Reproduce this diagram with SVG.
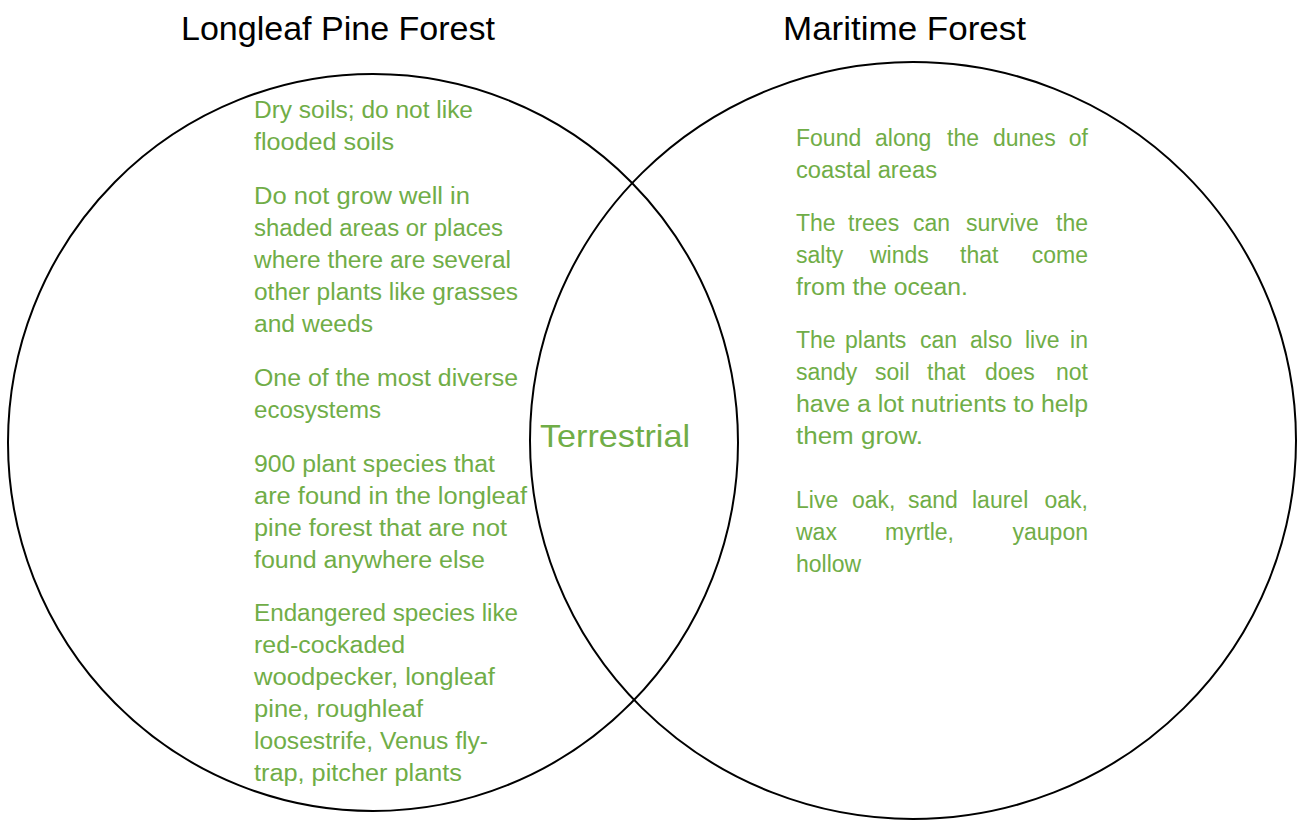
<svg xmlns="http://www.w3.org/2000/svg" width="1303" height="821" viewBox="0 0 1303 821">
<style>
.c{fill:none;stroke:#000;stroke-width:2}
.t{font-family:"Liberation Sans",Arial,sans-serif;font-size:23px;fill:#70AD47}
.e{text-anchor:end}
.h{font-family:"Liberation Sans",Arial,sans-serif;font-size:34px;fill:#000}
.m{font-family:"Liberation Sans",Arial,sans-serif;font-size:32px;fill:#70AD47}
</style>
<rect width="1303" height="821" fill="#fff"/>
<g id="circles">
<ellipse id="left-circle" class="c" cx="373" cy="442.5" rx="365" ry="368.5"/>
<ellipse id="right-circle" class="c" cx="913" cy="440.5" rx="383" ry="378.5"/>
</g>
<g id="titles">
<text class="h" x="181" y="40" textLength="314" lengthAdjust="spacingAndGlyphs">Longleaf Pine Forest</text>
<text class="h" x="783" y="40" textLength="243" lengthAdjust="spacingAndGlyphs">Maritime Forest</text>
</g>
<g id="overlap">
<text class="m" x="540" y="447" textLength="150" lengthAdjust="spacingAndGlyphs">Terrestrial</text>
</g>
<g id="longleaf-text">
<text class="t" x="254" y="118" textLength="219" lengthAdjust="spacingAndGlyphs">Dry soils; do not like</text>
<text class="t" x="254" y="150" textLength="140" lengthAdjust="spacingAndGlyphs">flooded soils</text>
<text class="t" x="254" y="204" textLength="216" lengthAdjust="spacingAndGlyphs">Do not grow well in</text>
<text class="t" x="254" y="236" textLength="249" lengthAdjust="spacingAndGlyphs">shaded areas or places</text>
<text class="t" x="254" y="268" textLength="257" lengthAdjust="spacingAndGlyphs">where there are several</text>
<text class="t" x="254" y="300" textLength="264" lengthAdjust="spacingAndGlyphs">other plants like grasses</text>
<text class="t" x="254" y="332" textLength="119" lengthAdjust="spacingAndGlyphs">and weeds</text>
<text class="t" x="254" y="386" textLength="264" lengthAdjust="spacingAndGlyphs">One of the most diverse</text>
<text class="t" x="254" y="418" textLength="127" lengthAdjust="spacingAndGlyphs">ecosystems</text>
<text class="t" x="254" y="472" textLength="241" lengthAdjust="spacingAndGlyphs">900 plant species that</text>
<text class="t" x="254" y="504" textLength="273" lengthAdjust="spacingAndGlyphs">are found in the longleaf</text>
<text class="t" x="254" y="536" textLength="253" lengthAdjust="spacingAndGlyphs">pine forest that are not</text>
<text class="t" x="254" y="568" textLength="231" lengthAdjust="spacingAndGlyphs">found anywhere else</text>
<text class="t" x="254" y="621" textLength="264" lengthAdjust="spacingAndGlyphs">Endangered species like</text>
<text class="t" x="254" y="653" textLength="151" lengthAdjust="spacingAndGlyphs">red-cockaded</text>
<text class="t" x="254" y="685" textLength="241" lengthAdjust="spacingAndGlyphs">woodpecker, longleaf</text>
<text class="t" x="254" y="717" textLength="169" lengthAdjust="spacingAndGlyphs">pine, roughleaf</text>
<text class="t" x="254" y="749" textLength="234" lengthAdjust="spacingAndGlyphs">loosestrife, Venus fly-</text>
<text class="t" x="254" y="781" textLength="208" lengthAdjust="spacingAndGlyphs">trap, pitcher plants</text>
</g>
<g id="maritime-text">
<text class="t" x="796" y="146">Found</text>
<text class="t" x="875" y="146">along</text>
<text class="t" x="947" y="146">the</text>
<text class="t" x="993" y="146">dunes</text>
<text class="t e" x="1088" y="146">of</text>
<text class="t" x="796" y="178" textLength="141" lengthAdjust="spacingAndGlyphs">coastal areas</text>

<text class="t" x="796" y="231">The</text>
<text class="t" x="848" y="231">trees</text>
<text class="t" x="913" y="231">can</text>
<text class="t" x="966" y="231">survive</text>
<text class="t e" x="1088" y="231">the</text>
<text class="t" x="796" y="263">salty</text>
<text class="t" x="870" y="263">winds</text>
<text class="t" x="960" y="263">that</text>
<text class="t e" x="1088" y="263">come</text>
<text class="t" x="796" y="295" textLength="172" lengthAdjust="spacingAndGlyphs">from the ocean.</text>

<text class="t" x="796" y="348">The</text>
<text class="t" x="845" y="348">plants</text>
<text class="t" x="920" y="348">can</text>
<text class="t" x="970" y="348">also</text>
<text class="t" x="1025" y="348">live</text>
<text class="t e" x="1088" y="348">in</text>
<text class="t" x="796" y="380">sandy</text>
<text class="t" x="875" y="380">soil</text>
<text class="t" x="927" y="380">that</text>
<text class="t" x="985" y="380">does</text>
<text class="t e" x="1088" y="380">not</text>
<text class="t" x="796" y="412" textLength="292" lengthAdjust="spacingAndGlyphs">have a lot nutrients to help</text>
<text class="t" x="796" y="444" textLength="127" lengthAdjust="spacingAndGlyphs">them grow.</text>

<text class="t" x="796" y="508">Live</text>
<text class="t" x="852" y="508">oak,</text>
<text class="t" x="908" y="508">sand</text>
<text class="t" x="972" y="508">laurel</text>
<text class="t e" x="1088" y="508">oak,</text>
<text class="t" x="796" y="540">wax</text>
<text class="t" x="885" y="540">myrtle,</text>
<text class="t e" x="1088" y="540">yaupon</text>
<text class="t" x="796" y="572">hollow</text>
</g>
</svg>
